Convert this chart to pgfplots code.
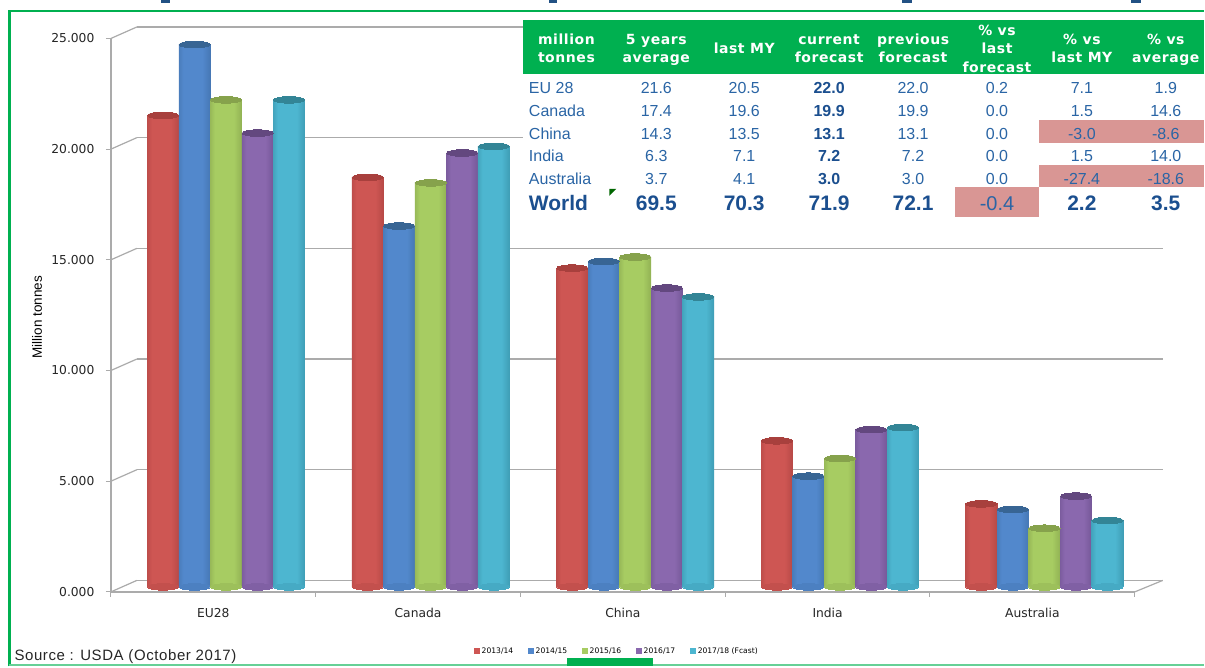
\documentclass[border=0pt]{standalone}
\usepackage{pgfplots}
\usepackage{pgfplotstable}
\usepackage{fontspec}
\pgfplotsset{compat=1.18}
\setmainfont{Liberation Sans}
\newfontfamily\djfont{DejaVu Sans}
\newfontfamily\hdfont[LetterSpace=4]{DejaVu Sans}
\newfontfamily\srcfont[LetterSpace=4]{Liberation Sans}
\newcommand{\fs}[1]{\fontsize{#1}{#1}\selectfont}

\definecolor{axgray}{HTML}{ABABAB}
\definecolor{frame}{HTML}{00B050}
\definecolor{tblue}{HTML}{2A65A5}
\definecolor{bblue}{HTML}{1B4F8F}
\definecolor{pink}{HTML}{D99694}

% cylinder colours: edge, light, top
\newcommand{\cylcolor}[4]{%
  \definecolor{#1e}{HTML}{#2}\definecolor{#1l}{HTML}{#3}\definecolor{#1t}{HTML}{#4}%
  \pgfdeclarehorizontalshading{#1}{100bp}{color(0bp)=(#1e); color(8bp)=(#1e); color(32bp)=(#1l); color(62bp)=(#1l); color(92bp)=(#1e); color(100bp)=(#1e)}}
\cylcolor{cyla}{983836}{CE5653}{A8403D}
\cylcolor{cylb}{356293}{5288CC}{386594}
\cylcolor{cylc}{748E41}{A7CC62}{86A24C}
\cylcolor{cyld}{5A427B}{8A68AE}{63487F}
\cylcolor{cyle}{2C7C92}{4DB6D0}{338596}

\pgfplotstableread{
pos  base y13   y14   y15   y16   y17
0.5  0    21.3  24.5  22.0  20.5  22.0
1.5  0    18.5  16.3  18.25 19.6  19.9
2.5  0    14.4  14.7  14.9  13.5  13.1
3.5  0    6.6   5.0   5.8   7.1   7.2
4.5  0    3.75  3.5   2.65  4.1   3.0
}\prod

% one cylinder (one table row): colour, column, offset, row before, row after
\newcommand{\onecyl}[5]{%
  \addplot[forget plot, only marks, mark=*, mark size=15.6pt,
      mark options={yscale=0.21, draw=#1l!80!#1e, fill=#1l!80!#1e, line width=0pt},
      skip coords between index={0}{#4}, skip coords between index={#5}{5}]
    table[x expr=\thisrow{pos}+#3*0.154, y=base] {\prod};
  \addplot[forget plot, ybar, /pgf/bar shift=0pt, bar width=31.6pt, draw=none, shade, shading=#1,
      skip coords between index={0}{#4}, skip coords between index={#5}{5}]
    table[x expr=\thisrow{pos}+#3*0.154, y=#2] {\prod};
  \addplot[forget plot, only marks, mark=*, mark size=15.6pt,
      mark options={yscale=0.21, draw=#1t, fill=#1t, line width=0pt},
      skip coords between index={0}{#4}, skip coords between index={#5}{5}]
    table[x expr=\thisrow{pos}+#3*0.154, y=#2] {\prod};
}
\newcommand{\cyl}[3]{%
  \onecyl{#1}{#2}{#3}{0}{1}
  \onecyl{#1}{#2}{#3}{1}{2}
  \onecyl{#1}{#2}{#3}{2}{3}
  \onecyl{#1}{#2}{#3}{3}{4}
  \onecyl{#1}{#2}{#3}{4}{5}
}

% table row: y, label, then seven values
\newcommand{\trow}[9]{%
  \node[anchor=west, text=tblue] at (526,#1) {#2};
  \node[text=tblue] at (657,#1) {#3};
  \node[text=tblue] at (745,#1) {#4};
  \node[text=bblue, font=\fs{16}\bfseries] at (830,#1) {#5};
  \node[text=tblue] at (914,#1) {#6};
  \node[text=tblue] at (998,#1) {#7};
  \node[text=tblue] at (1083,#1) {#8};
  \node[text=tblue] at (1167,#1) {#9};
}

\begin{document}
\begin{tikzpicture}
\begin{scope}[x=1pt,y=-1pt]
  \path[use as bounding box] (0,0) rectangle (1205,667);
  \fill[white] (0,0) rectangle (1205,667);
\end{scope}

% back wall
\begin{axis}[
  at={(137pt,-581pt)}, anchor=south west, scale only axis,
  width=1027pt, height=554pt,
  xmin=0, xmax=5, ymin=0, ymax=25,
  axis lines=left, axis line style={draw=none},
  xtick=\empty, ytick={0,5,...,25}, yticklabels={},
  major tick length=0pt, ymajorgrids,
  grid style={axgray, line width=1.3pt},
]
\end{axis}

% front axis with ticks and labels
\begin{axis}[
  at={(111pt,-592.5pt)}, anchor=south west, scale only axis,
  width=1025pt, height=554pt,
  xmin=0, xmax=5, ymin=0, ymax=25,
  axis lines=left, axis line style={axgray, line width=1.3pt, -},
  tick style={axgray, line width=1pt}, tick align=outside, major tick length=5pt,
  xtick={0,1,...,5}, xticklabels={},
  extra x ticks={0.5,1.5,2.5,3.5,4.5},
  extra x tick labels={EU28,Canada,China,India,Australia},
  extra x tick style={major tick length=0pt},
  ytick={0,5,...,25},
  /pgf/number format/assume math mode=true,
  /pgf/number format/fixed, /pgf/number format/fixed zerofill, /pgf/number format/precision=3,
  tick label style={font=\djfont\fs{12.3}, text=black!85},
  yticklabel style={xshift=-8pt},
  xticklabel style={yshift=-13pt},
  ylabel={Million tonnes},
  ylabel style={font=\fs{13.5}, at={(axis description cs:-0.0722,0.4964)}, anchor=center},
  clip=false,
]
  \pgfplotsinvokeforeach{0,5,...,25}{\draw[axgray, line width=1.2pt] (axis cs:0,#1) -- ++(26pt,11.5pt);}
  \draw[axgray, line width=1.2pt] (axis cs:5,0) -- ++(28pt,11.5pt);
\end{axis}

% cylinders, half way into the depth
\begin{axis}[
  at={(124pt,-587.5pt)}, anchor=south west, scale only axis,
  width=1024pt, height=554pt,
  xmin=0, xmax=5, ymin=0, ymax=25,
  hide axis, clip=false,
  legend style={at={(rel axis cs:0.342,-0.1165)}, anchor=west, draw=none, fill=none,
    font=\djfont\fs{7.6}, legend columns=5, inner sep=0pt, outer sep=0pt,
    /tikz/every even column/.append style={column sep=12.5pt}},
  legend image code/.code={\fill[draw=none, #1] (0pt,-3pt) rectangle (6pt,3pt);},
]
  \cyl{cyla}{y13}{-2}
  \cyl{cylb}{y14}{-1}
  \cyl{cylc}{y15}{0}
  \cyl{cyld}{y16}{1}
  \cyl{cyle}{y17}{2}
  \addlegendimage{fill=cylal, draw=none}\addlegendentry{2013/14}
  \addlegendimage{fill=cylbl, draw=none}\addlegendentry{2014/15}
  \addlegendimage{fill=cylcl, draw=none}\addlegendentry{2015/16}
  \addlegendimage{fill=cyldl, draw=none}\addlegendentry{2016/17}
  \addlegendimage{fill=cylel, draw=none}\addlegendentry{2017/18 (Fcast)}
\end{axis}

\begin{scope}[x=1pt,y=-1pt]
  % page furniture
  \fill[tblue!80!black] (161,0) rectangle (170,3);
  \fill[tblue!80!black] (550,0) rectangle (558,3);
  \fill[tblue!80!black] (903,0) rectangle (913,3);
  \fill[tblue!80!black] (1132,0) rectangle (1142,3);
  \draw[frame, line width=2.5pt] (9.5,667) -- (9.5,11) -- (1205,11);
  \draw[frame!60!white, line width=2pt] (9.5,665.5) -- (1205,665.5);
  \fill[frame] (568,659) rectangle (654,667);
  \node[anchor=west, font=\srcfont\fs{15}, text=black!85] at (11,657.5) {Source : USDA (October 2017)};

  % table
  \fill[white] (524,20) rectangle (1205,218);
  \fill[frame] (524,20) rectangle (1205,74.5);
  \fill[pink] (1040,120) rectangle (1205,143);
  \fill[pink] (1040,165) rectangle (1205,187);
  \fill[pink] (956,187) rectangle (1040,217);
  \fill[green!40!black] (610,189) -- (617,189) -- (610,196) -- cycle;
  \begin{scope}[every node/.style={text=white, font=\hdfont\fs{14}\bfseries, align=center, text height=10pt, text depth=3pt}]
    \node at (567,41.5) {million}; \node at (567,59.5) {tonnes};
    \node at (657,41.5) {5 years}; \node at (657,59.5) {average};
    \node at (745,50) {last MY};
    \node at (830,41.5) {current}; \node at (830,59.5) {forecast};
    \node at (914,41.5) {previous}; \node at (914,59.5) {forecast};
    \node at (998,32) {\% vs}; \node at (998,50) {last}; \node at (998,69) {forecast};
    \node at (1083,41.5) {\% vs}; \node at (1083,59.5) {last MY};
    \node at (1167,41.5) {\% vs}; \node at (1167,59.5) {average};
  \end{scope}
  \begin{scope}[every node/.style={font=\fs{16}, text height=11.5pt, text depth=0pt}]
  \trow{87.5}{EU 28}{21.6}{20.5}{22.0}{22.0}{0.2}{7.1}{1.9}
  \trow{110.5}{Canada}{17.4}{19.6}{19.9}{19.9}{0.0}{1.5}{14.6}
  \trow{133.5}{China}{14.3}{13.5}{13.1}{13.1}{0.0}{-3.0}{-8.6}
  \trow{155.5}{India}{6.3}{7.1}{7.2}{7.2}{0.0}{1.5}{14.0}
  \trow{178.5}{Australia}{3.7}{4.1}{3.0}{3.0}{0.0}{-27.4}{-18.6}
  \end{scope}
  \begin{scope}[every node/.style={text=bblue, font=\fs{21}\bfseries, text height=15pt, text depth=0pt}]
    \node[anchor=west] at (526,203) {World};
    \node at (657,203) {69.5};
    \node at (745,203) {70.3};
    \node at (830,203) {71.9};
    \node at (914,203) {72.1};
    \node[text=tblue, font=\fs{20}] at (998,203) {-0.4};
    \node at (1083,203) {2.2};
    \node at (1167,203) {3.5};
  \end{scope}
\end{scope}
\end{tikzpicture}
\end{document}
